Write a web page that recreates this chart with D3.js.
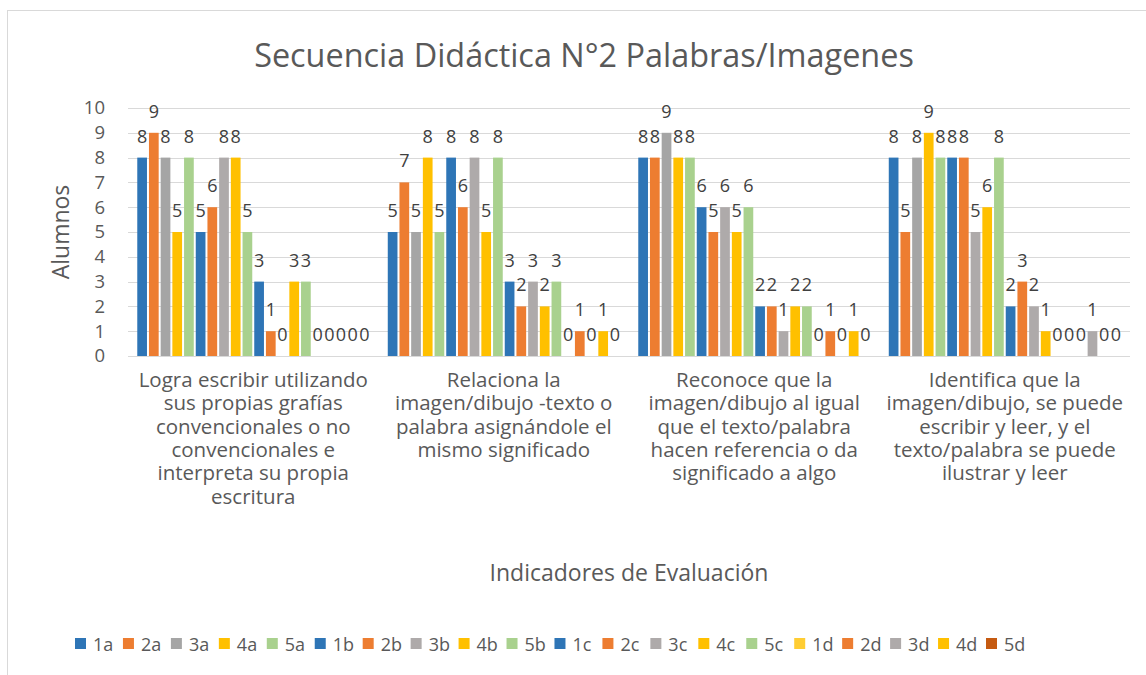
<!DOCTYPE html>
<html>
<head>
<meta charset="utf-8">
<script src="https://cdn.jsdelivr.net/npm/d3@7"></script>
<style>
  body { margin: 0; background: #fff; }
  text { font-family: "Open Sans", Lato, sans-serif; fill: #595959; }
</style>
</head>
<body>
<div id="grafico"></div>
<script>
// Secuencia Didáctica N°2 - barras agrupadas

const ancho = 1146;
const alto = 675;

// categorías (indicadores), cada una partida en líneas como en el original
const indicadores = [
  ["Logra escribir utilizando", "sus propias grafías", "convencionales o no", "convencionales e", "interpreta su propia", "escritura"],
  ["Relaciona la", "imagen/dibujo -texto o", "palabra asignándole el", "mismo significado"],
  ["Reconoce que la", "imagen/dibujo al igual", "que el texto/palabra", "hacen referencia o da", "significado a algo"],
  ["Identifica que la", "imagen/dibujo, se puede", "escribir y leer, y el", "texto/palabra se puede", "ilustrar y leer"]
];

const series = ["1a","2a","3a","4a","5a","1b","2b","3b","4b","5b","1c","2c","3c","4c","5c","1d","2d","3d","4d","5d"];

const coloresSerie = ["#2E75B6","#ED7D31","#A5A5A5","#FFC000","#A9D18E",
                      "#2E75B6","#ED7D31","#AEAAAA","#FFC000","#A9D18E",
                      "#2E75B6","#ED7D31","#AEAAAA","#FFC000","#A9D18E",
                      "#FFCD33","#ED7D31","#AEAAAA","#FFC000","#C55A11"];

// valores por indicador (una fila por indicador, una columna por serie)
const valoresLogra      = [8,9,8,5,8, 5,6,8,8,5, 3,1,0,3,3, 0,0,0,0,0];
const valoresRelaciona  = [5,7,5,8,5, 8,6,8,5,8, 3,2,3,2,3, 0,1,0,1,0];
const valoresReconoce   = [8,8,9,8,8, 6,5,6,5,6, 2,2,1,2,2, 0,1,0,1,0];
const valoresIdentifica = [8,5,8,9,8, 8,8,5,6,8, 2,3,2,1,0, 0,0,1,0,0];

const ticksY = [0,1,2,3,4,5,6,7,8,9,10];

const tablaValores = [valoresLogra, valoresRelaciona, valoresReconoce, valoresIdentifica];

const svg = d3.select("#grafico")
  .append("svg")
  .attr("width", ancho)
  .attr("height", alto);

// borde del área del gráfico
svg.append("rect")
  .attr("x", 7.5).attr("y", 10.5)
  .attr("width", ancho + 20).attr("height", alto + 20)
  .attr("fill", "#fff")
  .attr("stroke", "#D9D9D9");

// escalas
const x0 = d3.scaleBand()
  .domain(d3.range(indicadores.length))
  .range([128, 1130])
  .paddingInner(0.074)
  .paddingOuter(0.037);

const x1 = d3.scaleBand()
  .domain(series)
  .range([0, x0.bandwidth()])
  .paddingInner(0.17);

const y = d3.scaleLinear()
  .domain([0, 10])
  .range([356, 108]);

const color = d3.scaleOrdinal().domain(series).range(coloresSerie);

// rejilla
svg.append("g")
  .selectAll("line")
  .data(ticksY)
  .join("line")
  .attr("x1", 128).attr("x2", 1130)
  .attr("y1", d => Math.round(y(d)) + 0.5)
  .attr("y2", d => Math.round(y(d)) + 0.5)
  .attr("stroke", "#D9D9D9")
  .attr("stroke-width", 1);

// eje Y (solo etiquetas)
const ejeY = svg.append("g")
  .attr("transform", "translate(128,0)")
  .call(d3.axisLeft(y).tickValues(ticksY).tickSize(0).tickPadding(23));
ejeY.select(".domain").remove();
ejeY.selectAll("text")
  .style("font-family", "'Open Sans', sans-serif")
  .style("font-size", "18.5px")
  .attr("fill", "#595959");

// barras
const grupos = svg.append("g")
  .selectAll("g")
  .data(tablaValores)
  .join("g")
  .attr("transform", (d, i) => `translate(${x0(i)},0)`);

grupos.selectAll("rect")
  .data(d => d.map((v, j) => ({ serie: series[j], valor: v })))
  .join("rect")
  .attr("x", d => x1(d.serie))
  .attr("y", d => y(d.valor))
  .attr("width", x1.bandwidth())
  .attr("height", d => y(0) - y(d.valor))
  .attr("fill", d => color(d.serie));

// etiquetas de datos
grupos.selectAll("text")
  .data(d => d.map((v, j) => ({ serie: series[j], valor: v })))
  .join("text")
  .attr("x", d => x1(d.serie) + x1.bandwidth() / 2)
  .attr("y", d => y(d.valor) - 15)
  .attr("text-anchor", "middle")
  .style("font-size", "18px")
  .style("fill", "#404040")
  .text(d => d.valor);

// etiquetas de categorías
const etiquetasX = svg.append("g")
  .selectAll("text")
  .data(indicadores)
  .join("text")
  .attr("text-anchor", "middle")
  .attr("x", (d, i) => x0(i) + x0.bandwidth() / 2)
  .attr("y", 387)
  .style("font-size", "20.5px");

etiquetasX.selectAll("tspan")
  .data(d => d)
  .join("tspan")
  .attr("x", function() { return d3.select(this.parentNode).attr("x"); })
  .attr("dy", (d, i) => i === 0 ? 0 : 23.3)
  .text(d => d);

// título
svg.append("text")
  .attr("x", 584).attr("y", 67)
  .attr("text-anchor", "middle")
  .style("font-size", "32.4px")
  .text("Secuencia Didáctica N°2 Palabras/Imagenes");

// títulos de ejes
svg.append("text")
  .attr("transform", "translate(69,232) rotate(-90)")
  .attr("text-anchor", "middle")
  .style("font-size", "23px")
  .text("Alumnos");

svg.append("text")
  .attr("x", 629).attr("y", 581)
  .attr("text-anchor", "middle")
  .style("font-size", "23px")
  .text("Indicadores de Evaluación");

// leyenda
const posLeyenda = d3.scalePoint()
  .domain(series)
  .range([75, 986]);

const itemsLeyenda = svg.append("g")
  .selectAll("g")
  .data(series)
  .join("g")
  .attr("transform", d => `translate(${posLeyenda(d)},638)`);

itemsLeyenda.append("rect")
  .attr("width", 11).attr("height", 11)
  .attr("fill", d => color(d));

itemsLeyenda.append("text")
  .attr("x", 18).attr("y", 12.5)
  .style("font-size", "18px")
  .text(d => d);
</script>
</body>
</html>
